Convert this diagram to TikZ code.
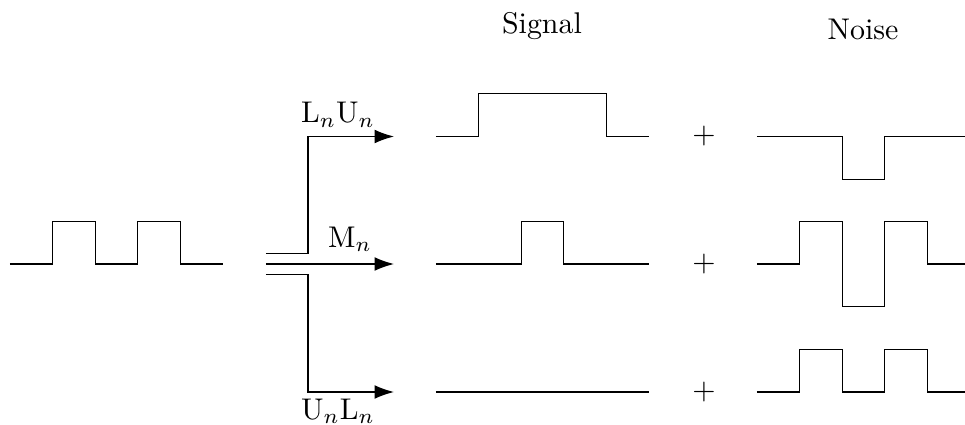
\documentclass[tikz,border=0pt]{standalone}
\usetikzlibrary{arrows.meta}
\begin{document}
\begin{tikzpicture}[x=0.334pt,y=-0.334pt,
  wave/.style={line width=0.4pt},
  arr/.style={line width=0.4pt,-{Latex[length=6.5pt,width=4.6pt]}},
  lbl/.style={anchor=base,inner sep=0pt},
  plus/.style={inner sep=0pt}]
\useasboundingbox (0,0) rectangle (965,425);
% titles
\node[lbl] (sig) at (542,33) {Signal};
\node[lbl] (noi) at (863,40) {Noise};
% input waveform
\draw[wave] (10,264) -- (52.6,264) -- (52.6,221.4) -- (95.2,221.4) -- (95.2,264)
  -- (137.8,264) -- (137.8,221.4) -- (180.4,221.4) -- (180.4,264) -- (223,264);
% branching
\coordinate (su) at (266,253.3);
\coordinate (sm) at (266,264);
\coordinate (sl) at (266,274.7);
\coordinate (ku) at (308,253.3);
\coordinate (kl) at (308,274.7);
\coordinate (tu) at (308,136.5);
\coordinate (tl) at (308,392);
\coordinate (eu) at (394,136.5);
\coordinate (em) at (394,264);
\coordinate (el) at (394,392);
\draw[arr] (su) -- (ku) -- (tu) -- (eu);
\draw[arr] (sm) -- (em);
\draw[arr] (sl) -- (kl) -- (tl) -- (el);
\node[lbl] (lu) at (338,123) {L$_n$U$_n$};
\node[lbl] (lm) at (350,247) {M$_n$};
\node[lbl] (ll) at (338,419) {U$_n$L$_n$};
% signal column
\draw[wave] (436,136.5) -- (478.6,136.5) -- (478.6,93.9) -- (606.4,93.9) -- (606.4,136.5) -- (649,136.5);
\draw[wave] (436,264) -- (521.2,264) -- (521.2,221.4) -- (563.8,221.4) -- (563.8,264) -- (649,264);
\draw[wave] (436,392) -- (649,392);
% plus signs
\node[plus] (p1) at (704,136.5) {$+$};
\node[plus] (p2) at (704,264) {$+$};
\node[plus] (p3) at (704,392) {$+$};
% noise column
\draw[wave] (757,136.5) -- (842.2,136.5) -- (842.2,179.1) -- (884.8,179.1) -- (884.8,136.5) -- (965,136.5);
\draw[wave] (757,264) -- (799.6,264) -- (799.6,221.4) -- (842.2,221.4) -- (842.2,306.6)
  -- (884.8,306.6) -- (884.8,221.4) -- (927.4,221.4) -- (927.4,264) -- (965,264);
\draw[wave] (757,392) -- (799.6,392) -- (799.6,349.4) -- (842.2,349.4) -- (842.2,392)
  -- (884.8,392) -- (884.8,349.4) -- (927.4,349.4) -- (927.4,392) -- (965,392);
\end{tikzpicture}
\end{document}
